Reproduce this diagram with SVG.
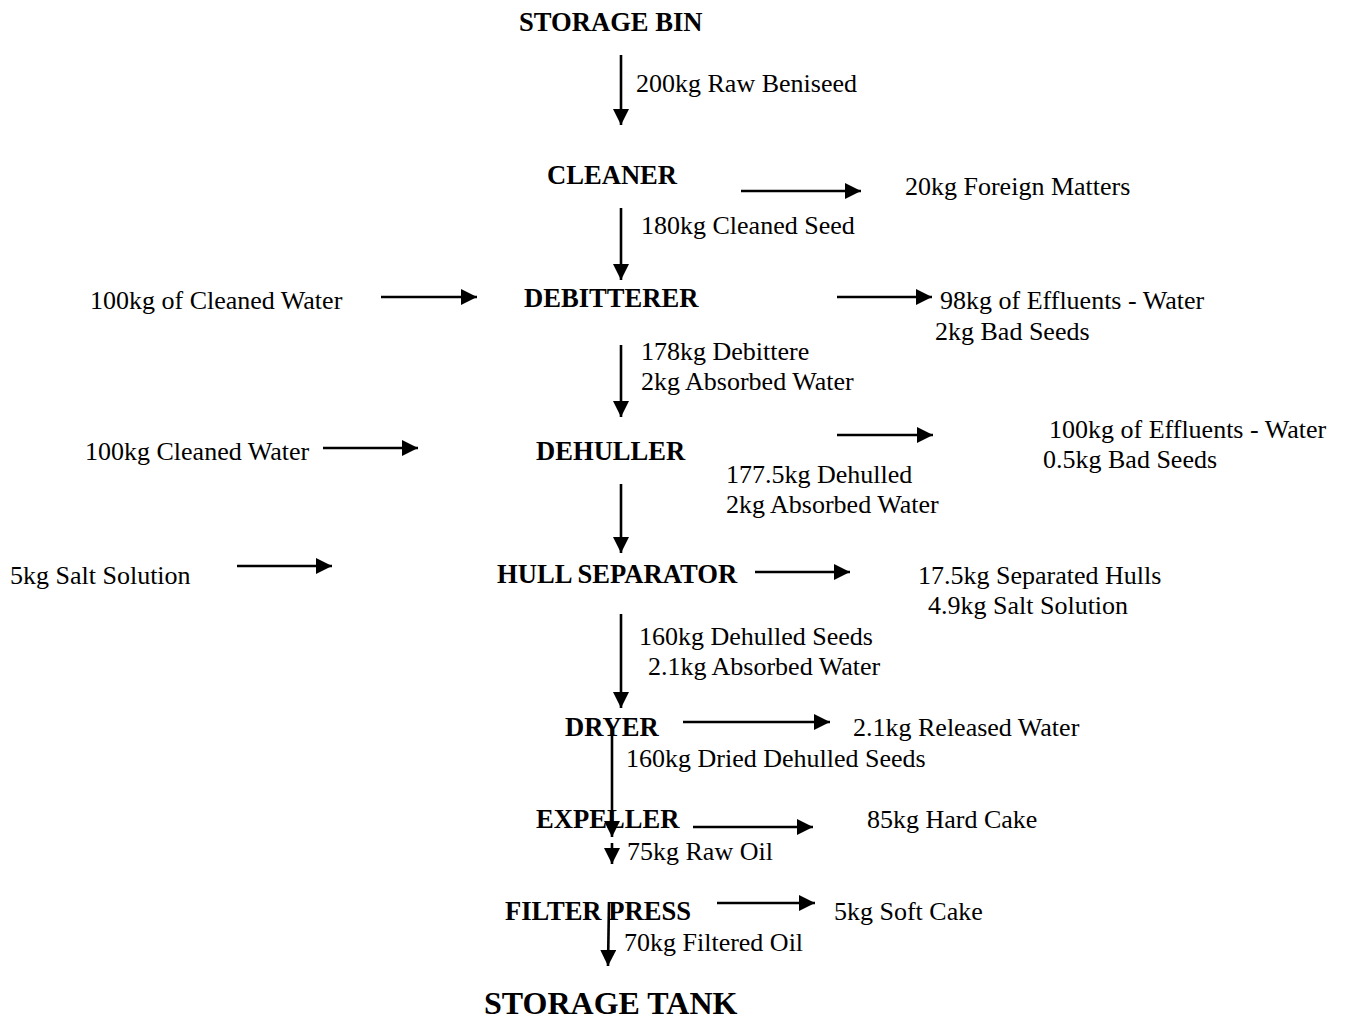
<svg xmlns="http://www.w3.org/2000/svg" width="1354" height="1019" viewBox="0 0 1354 1019">
<style>
text{font-family:"Liberation Serif","Times New Roman",serif;font-size:26px;fill:#000}
.b{font-weight:bold;font-size:26.6px}
.big{font-size:32px;font-weight:bold}
.c line{stroke:#000;stroke-width:2.6;marker-end:url(#ah)}
</style>
<defs>
<marker id="ah" markerUnits="userSpaceOnUse" markerWidth="17" markerHeight="16" refX="16" refY="8" orient="auto">
<path d="M0,0 L16,8 L0,16 z" fill="#000"/>
</marker>
</defs>
<rect width="1354" height="1019" fill="#fff"/>
<g id="storage-bin"><text class="b" x="519" y="31">STORAGE BIN</text></g>
<g id="cleaner"><text class="b" x="547" y="184">CLEANER</text></g>
<g id="debitterer"><text class="b" x="524" y="307">DEBITTERER</text></g>
<g id="dehuller"><text class="b" x="536" y="460">DEHULLER</text></g>
<g id="hull-separator"><text class="b" x="497" y="583">HULL SEPARATOR</text></g>
<g id="dryer"><text class="b" x="565" y="736">DRYER</text></g>
<g id="expeller"><text class="b" x="536" y="828">EXPELLER</text></g>
<g id="filter-press"><text class="b" x="505" y="920">FILTER PRESS</text></g>
<g id="storage-tank"><text class="big" x="484" y="1014">STORAGE TANK</text></g>
<g id="labels">
<text x="636" y="92">200kg Raw Beniseed</text>
<text x="905" y="195">20kg Foreign Matters</text>
<text x="641" y="234">180kg Cleaned Seed</text>
<text x="90" y="309">100kg of Cleaned Water</text>
<text x="940" y="309">98kg of Effluents - Water</text>
<text x="935" y="340">2kg Bad Seeds</text>
<text x="641" y="360">178kg Debittere</text>
<text x="641" y="390">2kg Absorbed Water</text>
<text x="85" y="460">100kg Cleaned Water</text>
<text x="1049" y="438">100kg of Effluents - Water</text>
<text x="1043" y="468">0.5kg Bad Seeds</text>
<text x="726" y="483">177.5kg Dehulled</text>
<text x="726" y="513">2kg Absorbed Water</text>
<text x="10" y="584">5kg Salt Solution</text>
<text x="918" y="584">17.5kg Separated Hulls</text>
<text x="928" y="614">4.9kg Salt Solution</text>
<text x="639" y="645">160kg Dehulled Seeds</text>
<text x="648" y="675">2.1kg Absorbed Water</text>
<text x="853" y="736">2.1kg Released Water</text>
<text x="626" y="767">160kg Dried Dehulled Seeds</text>
<text x="867" y="828">85kg Hard Cake</text>
<text x="627" y="860">75kg Raw Oil</text>
<text x="834" y="920">5kg Soft Cake</text>
<text x="624" y="951">70kg Filtered Oil</text>
</g>
<g id="connectors" class="c">
<line x1="621" y1="55" x2="621" y2="125"/>
<line x1="741" y1="191" x2="861" y2="191"/>
<line x1="621" y1="208" x2="621" y2="280"/>
<line x1="381" y1="297" x2="477" y2="297"/>
<line x1="837" y1="297" x2="932" y2="297"/>
<line x1="621" y1="345" x2="621" y2="417"/>
<line x1="323" y1="448" x2="418" y2="448"/>
<line x1="837" y1="435" x2="933" y2="435"/>
<line x1="621" y1="484" x2="621" y2="553"/>
<line x1="237" y1="566" x2="332" y2="566"/>
<line x1="755" y1="572" x2="850" y2="572"/>
<line x1="621" y1="614" x2="621" y2="708"/>
<line x1="683" y1="722" x2="830" y2="722"/>
<line x1="612" y1="728" x2="612" y2="837"/>
<line x1="693" y1="827" x2="813" y2="827"/>
<line x1="612" y1="843" x2="612" y2="864"/>
<line x1="717" y1="903" x2="815" y2="903"/>
<line x1="609" y1="902" x2="608" y2="966"/>
</g>
</svg>
